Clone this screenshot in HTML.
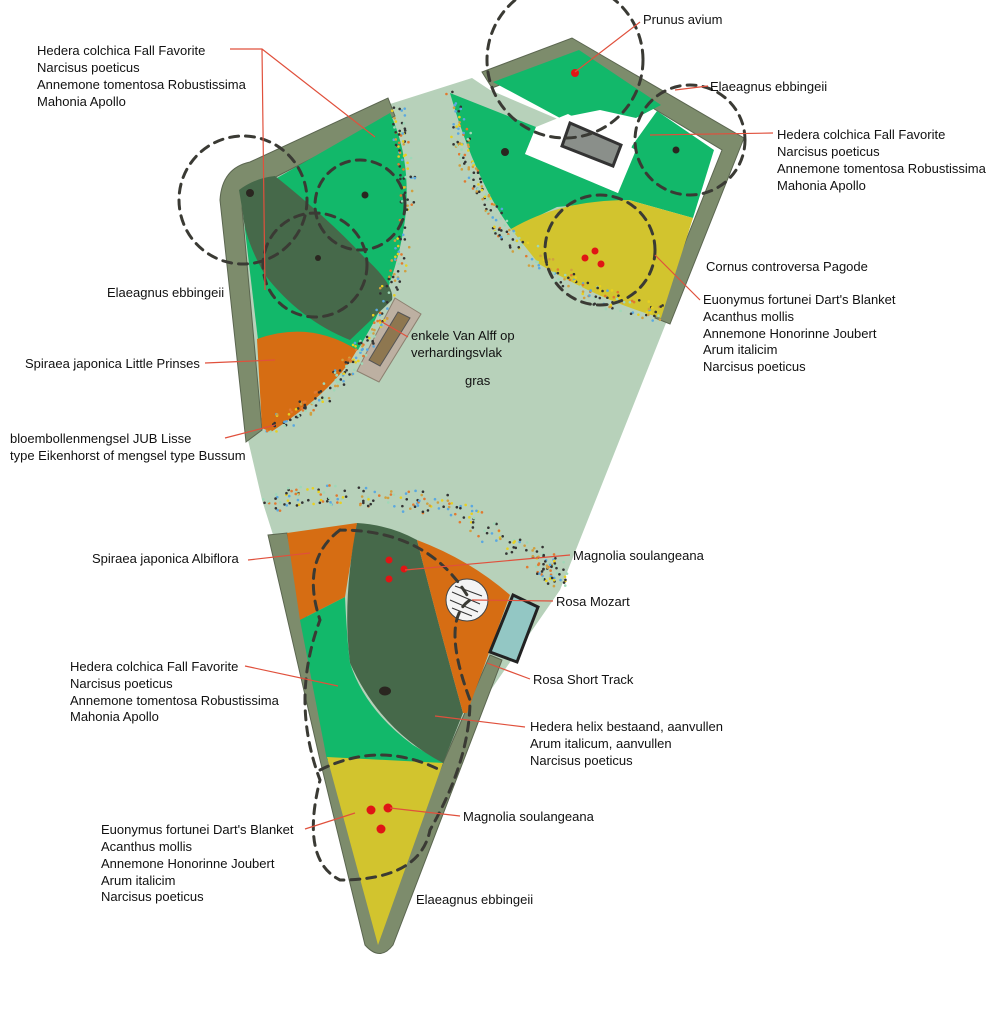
<!DOCTYPE html>
<html><head><meta charset="utf-8"><style>
html,body{margin:0;padding:0;background:#fff}
svg{display:block}
text{font-family:"Liberation Sans",sans-serif;font-size:13px;fill:#111}
</style></head><body>
<svg id="s" width="1008" height="1030" viewBox="0 0 1008 1030" xmlns="http://www.w3.org/2000/svg">
<rect width="1008" height="1030" fill="#fff"/>
<path d="M240,185 L390,104 L472,78 L490,90 L560,120 L668,318 L560,590 L470,720 L378,945 L300,620 L262,500 L248,440 Z" fill="#b7d1ba"/>
<g fill="#7d8c6c" stroke="#5b6650" stroke-width="1">
<path d="M220,200 Q222,168 250,162 L388,98 L395,116 L258,186 Q244,192 242,208 L262,430 L246,442 Z"/>
<path d="M482,72 L572,38 L744,138 L670,324 L655,318 L722,150 L570,58 L492,88 Z"/>
<path d="M268,535 L287,533 L340,760 L378,935 L440,770 L490,655 L502,660 L393,945 Q380,962 365,945 L320,760 Z"/>
</g>
<path d="M243,200 L270,182 L390,113 Q412,160 405,220 Q398,270 375,320 L358,350 L258,340 L245,230 Z" fill="#12b86a"/>
<path d="M239,190 Q255,178 275,176 Q330,220 364,257 Q395,285 392,300 L350,340 Q300,320 265,275 Q245,240 243,214 Z" fill="#46694a"/>
<path d="M257,339 Q310,320 357,350 Q335,390 271,432 L262,428 Z" fill="#d66d13"/>
<path d="M493,82 L579,50 L661,105 L636,118 L600,110 L560,118 Z" fill="#12b86a"/>
<path d="M450,93 L536,127 L525,154 L618,193 L632,146 L657,111 L714,150 L693,218 L629,200 L557,207 L511,229 Q475,180 450,93 Z" fill="#12b86a"/>
<path d="M536,127 L568,114 L636,150 L618,193 L525,154 Z" fill="#fff"/>
<path d="M570,123 L621,145 L613,166 L562,146 Z" fill="#8a8f8a" stroke="#333" stroke-width="3"/>
<path d="M511,229 Q560,200 629,200 L693,218 L661,318 Q600,300 539,264 Z" fill="#d2c42e"/>
<path d="M395,298 L421,314 L379,382 L357,371 Z" fill="#bdb0a2" stroke="#8c8070"/>
<path d="M398,312 L410,318 L380,366 L369,360 Z" fill="#8e7750" stroke="#555"/>
<path d="M287,533 L357,523 L345,597 L300,620 Z" fill="#d66d13"/>
<path d="M300,620 L345,597 Q347,640 350,663 Q365,710 413,745 L443,763 L327,760 Z" fill="#12b86a"/>
<path d="M357,523 Q390,525 417,540 Q440,630 463,713 L443,763 Q380,730 350,663 Q342,600 357,523 Z" fill="#46694a"/>
<path d="M417,540 Q470,560 510,595 L490,650 L467,713 L463,713 Q440,630 417,540 Z" fill="#d66d13"/>
<path d="M327,757 L443,763 L378,945 Z" fill="#d2c42e"/>
<path d="M513,595 L538,607 L517,662 L490,652 Z" fill="#93c7c4" stroke="#222" stroke-width="3"/>
<circle cx="467" cy="600" r="21" fill="#f4f4f4" stroke="#444"/>
<path d="M452,592 L480,604 M450,600 L478,612 M455,586 L482,596 M452,608 L472,616" stroke="#333" stroke-width="1"/>
<g id="dots"></g>
<g fill="none" stroke="#3a3a34" stroke-width="3" stroke-dasharray="9,7" stroke-linecap="round">
<circle cx="243" cy="200" r="64"/>
<circle cx="360" cy="205" r="45"/>
<circle cx="315" cy="265" r="52"/>
<circle cx="565" cy="60" r="78"/>
<circle cx="600" cy="250" r="55"/>
<circle cx="690" cy="140" r="55"/>
<path d="M340,530 Q300,560 320,620 Q290,700 320,780 Q300,860 340,880 Q420,880 430,830 Q470,760 470,700 Q440,620 470,600 Q430,530 340,530"/>
<path d="M320,770 Q380,740 440,770"/>
</g>
<g fill="#2a2620"><circle cx="250" cy="193" r="4"/><circle cx="365" cy="195" r="3.5"/><circle cx="318" cy="258" r="3"/><circle cx="505" cy="152" r="4"/><circle cx="676" cy="150" r="3.5"/><ellipse cx="385" cy="691" rx="6" ry="4.5"/></g>
<g fill="#e01515"><circle cx="575" cy="73" r="4"/><circle cx="595" cy="251" r="3.5"/><circle cx="585" cy="258" r="3.5"/><circle cx="601" cy="264" r="3.5"/><circle cx="389" cy="560" r="3.5"/><circle cx="404" cy="569" r="3.5"/><circle cx="389" cy="579" r="3.5"/><circle cx="371" cy="810" r="4.5"/><circle cx="388" cy="808" r="4.5"/><circle cx="381" cy="829" r="4.5"/></g>
<g stroke="#e0503c" stroke-width="1.2" fill="none">
<path d="M230,49 L262,49 L375,137 M262,49 L265,290"/>
<path d="M640,22 L575,72"/><path d="M708,86 L675,90"/><path d="M773,133 L650,135"/>
<path d="M700,300 L655,255"/><path d="M408,337 L382,322"/><path d="M205,363 L275,360"/>
<path d="M225,438 L275,425"/><path d="M248,560 L310,553"/><path d="M570,555 L405,570"/>
<path d="M553,601 L472,600"/><path d="M530,679 L487,663"/><path d="M245,666 L338,686"/>
<path d="M525,727 L435,716"/><path d="M460,816 L390,808"/><path d="M305,829 L355,813"/>
</g>
<g>
<text x="37" y="55">Hedera colchica Fall Favorite</text><text x="37" y="72">Narcisus poeticus</text><text x="37" y="89">Annemone tomentosa Robustissima</text><text x="37" y="106">Mahonia Apollo</text>
<text x="643" y="24">Prunus avium</text>
<text x="710" y="91">Elaeagnus ebbingeii</text>
<text x="777" y="139">Hedera colchica Fall Favorite</text><text x="777" y="156">Narcisus poeticus</text><text x="777" y="173">Annemone tomentosa Robustissima</text><text x="777" y="190">Mahonia Apollo</text>
<text x="706" y="271">Cornus controversa Pagode</text>
<text x="703" y="304">Euonymus fortunei Dart's Blanket</text><text x="703" y="321">Acanthus mollis</text><text x="703" y="338">Annemone Honorinne Joubert</text><text x="703" y="354">Arum italicim</text><text x="703" y="371">Narcisus poeticus</text>
<text x="107" y="297">Elaeagnus ebbingeii</text>
<text x="411" y="340">enkele Van Alff op</text><text x="411" y="357">verhardingsvlak</text>
<text x="465" y="385">gras</text>
<text x="25" y="368">Spiraea japonica Little Prinses</text>
<text x="10" y="443">bloembollenmengsel JUB Lisse</text><text x="10" y="460">type Eikenhorst of mengsel type Bussum</text>
<text x="92" y="563">Spiraea japonica Albiflora</text>
<text x="573" y="560">Magnolia soulangeana</text>
<text x="556" y="606">Rosa Mozart</text>
<text x="533" y="684">Rosa Short Track</text>
<text x="70" y="671">Hedera colchica Fall Favorite</text><text x="70" y="688">Narcisus poeticus</text><text x="70" y="705">Annemone tomentosa Robustissima</text><text x="70" y="721">Mahonia Apollo</text>
<text x="530" y="731">Hedera helix bestaand, aanvullen</text><text x="530" y="748">Arum italicum,  aanvullen</text><text x="530" y="765">Narcisus poeticus</text>
<text x="463" y="821">Magnolia soulangeana</text>
<text x="101" y="834">Euonymus fortunei Dart's Blanket</text><text x="101" y="851">Acanthus mollis</text><text x="101" y="868">Annemone Honorinne Joubert</text><text x="101" y="885">Arum italicim</text><text x="101" y="901">Narcisus poeticus</text>
<text x="416" y="904">Elaeagnus ebbingeii</text>
</g>
</svg>
<script>
(function(){var g=document.getElementById('dots'),seed=7;function r(){seed=(seed*16807)%2147483647;return seed/2147483647;}
var cols=['#e8d020','#5aa8e0','#e07a30','#333','#333','#9fd8b8','#d0a040'];
function strip(pts,w,n){for(var i=0;i<n;i++){var t=r()*(pts.length-1),k=Math.floor(t),f=t-k;var a=pts[k],b=pts[k+1];var x=a[0]+(b[0]-a[0])*f+(r()-.5)*w,y=a[1]+(b[1]-a[1])*f+(r()-.5)*w;var c=document.createElementNS('http://www.w3.org/2000/svg','circle');c.setAttribute('cx',x);c.setAttribute('cy',y);c.setAttribute('r',1.3);c.setAttribute('fill',cols[Math.floor(r()*cols.length)]);g.appendChild(c);}}
strip([[398,112],[408,180],[400,260],[375,330],[330,390],[270,430]],16,260);
strip([[452,100],[470,170],[510,240],[580,290],[660,315]],18,240);
strip([[265,500],[350,495],[450,505],[540,560],[560,580]],22,240);
})();
</script>
</body></html>
